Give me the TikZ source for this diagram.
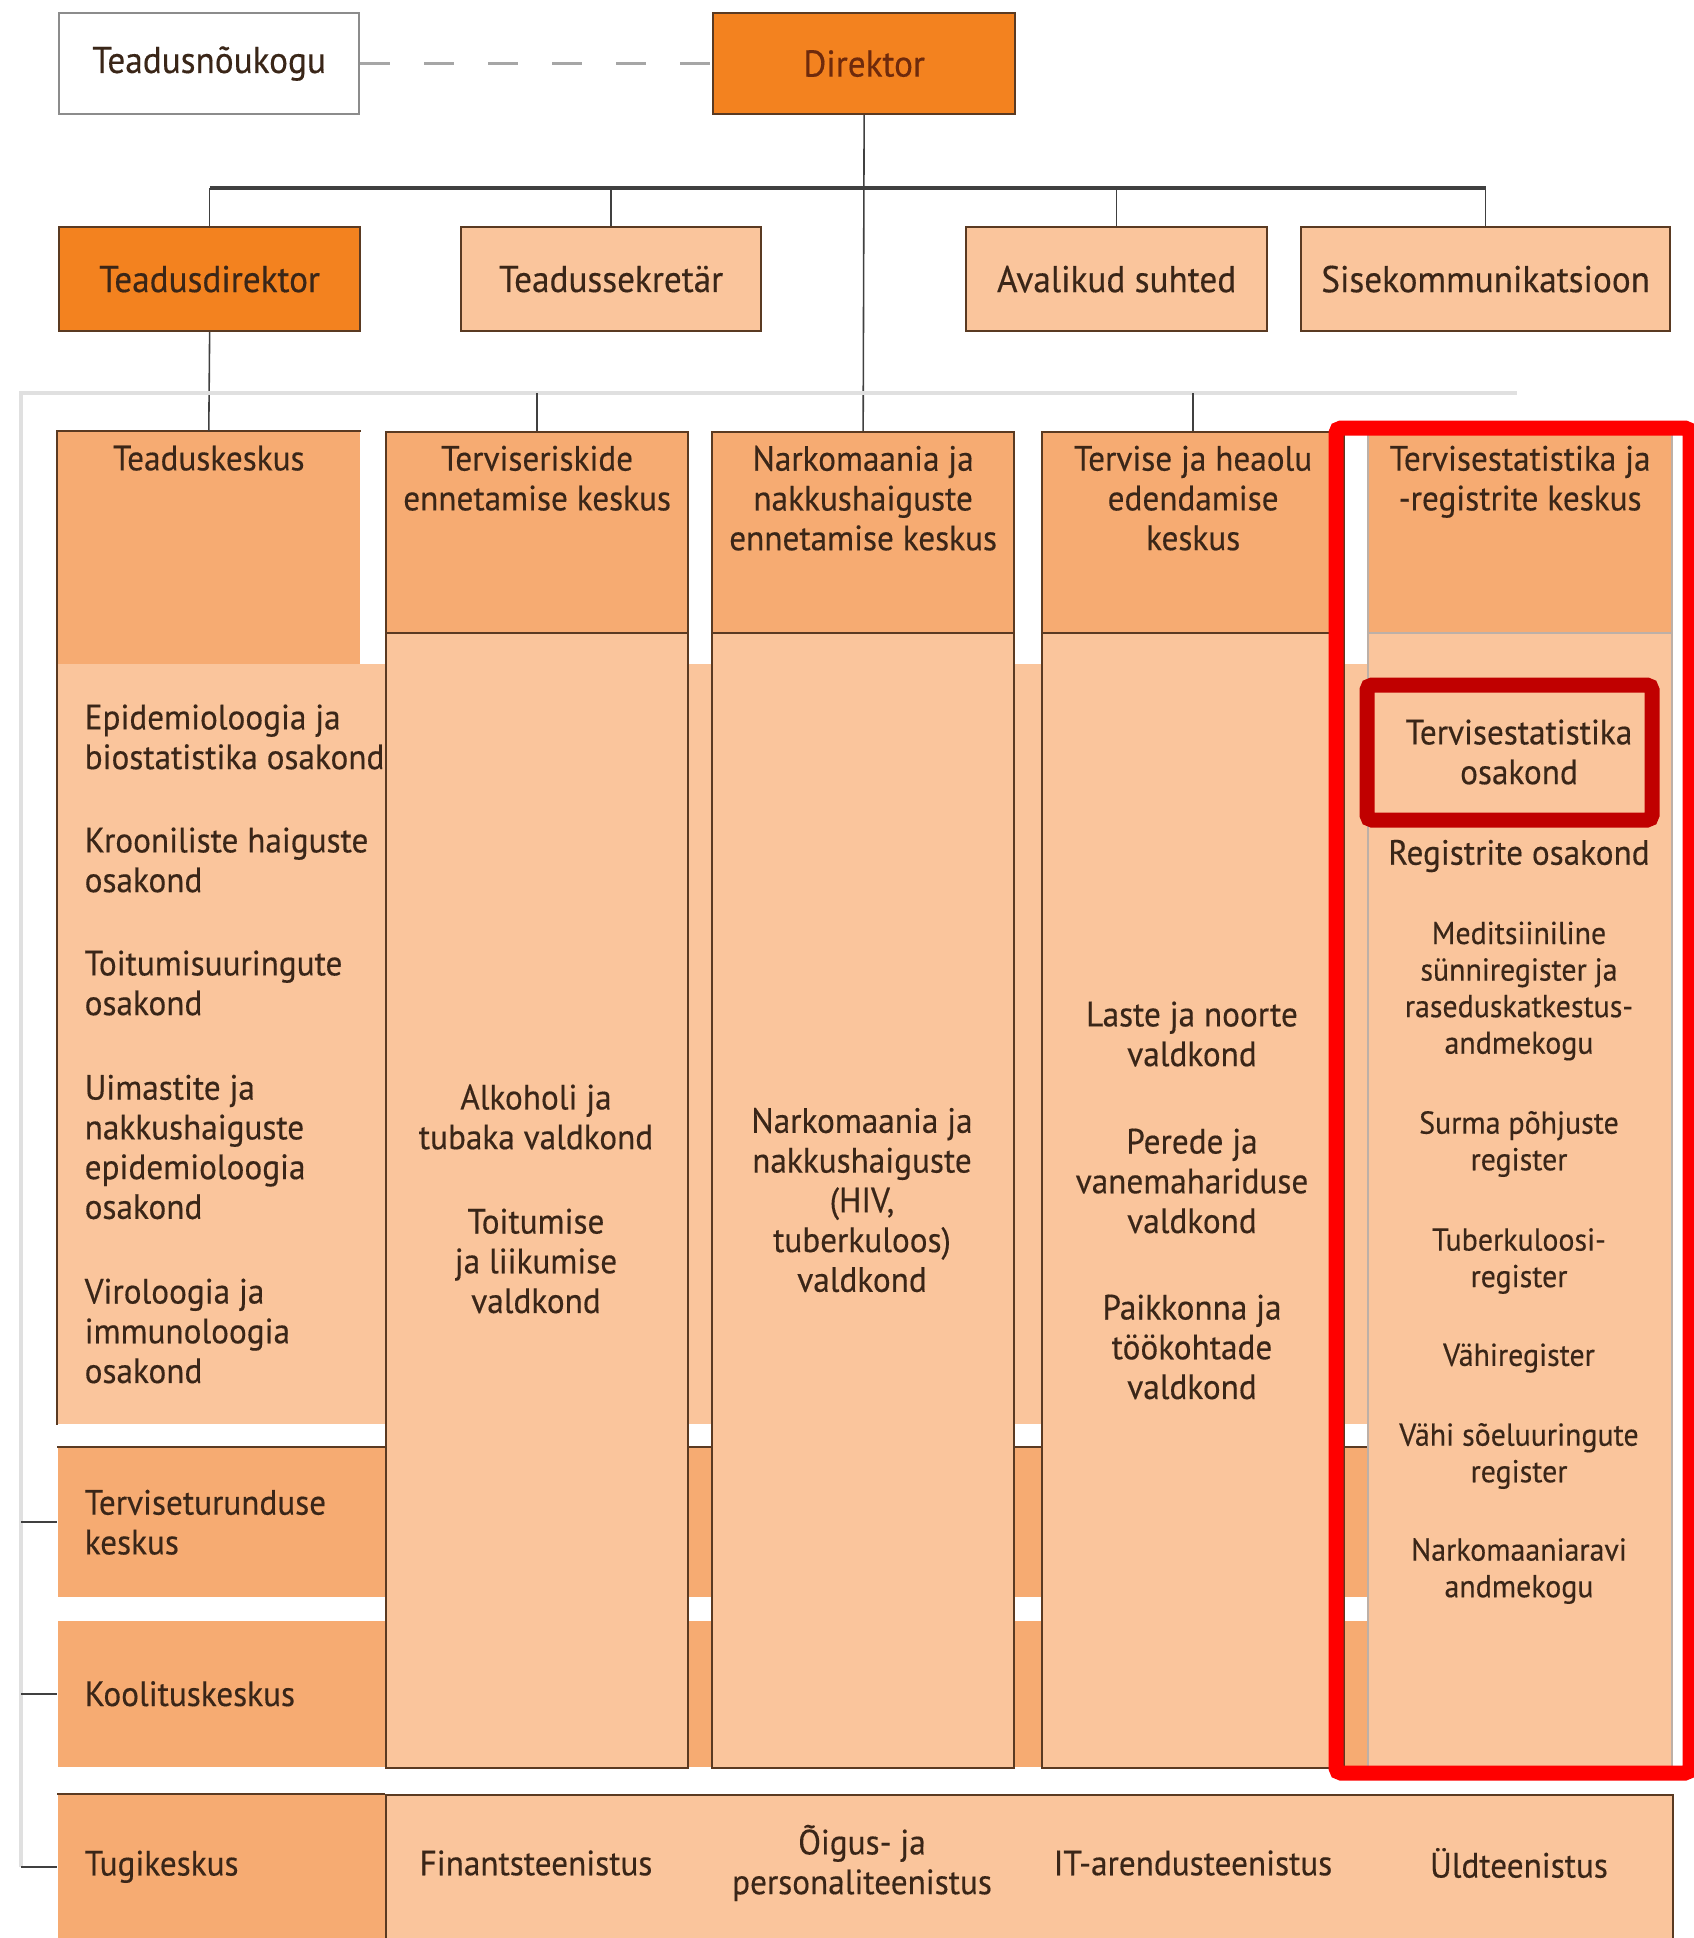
\documentclass[tikz,border=0pt]{standalone}
\usepackage{fontspec}
\setmainfont{PT Sans}[FakeStretch=0.945, FakeBold=0.35]
\usetikzlibrary{positioning}
\definecolor{dirorange}{HTML}{F3821F}
\definecolor{midorange}{HTML}{F6AB72}
\definecolor{lightorange}{HTML}{FAC59C}
\definecolor{ink}{HTML}{3A2618}
\definecolor{dirtext}{HTML}{6E2A0C}
\definecolor{edge}{HTML}{5A3A22}
\definecolor{hired}{HTML}{FF0000}
\definecolor{darkred}{HTML}{C00000}

\begin{document}
\begin{tikzpicture}[x=0.01cm, y=-0.01cm,
                every node/.style={font=\fontsize{10}{11.3}\selectfont, text=ink, inner sep=0pt},
                unit/.style={draw=edge, line width=0.6pt, anchor=north west, align=center},
                dark/.style={unit, fill=dirorange},
                pale/.style={unit, fill=lightorange},
                mid/.style={unit, fill=midorange},
                top/.style={font=\fontsize{10.6}{12}\selectfont},
                band/.style={anchor=north west, minimum width=13.10cm, text width=12.56cm,
                             align=left, inner xsep=0.27cm},
                dept/.style={anchor=west, align=left},
                item/.style={align=center},
                small/.style={align=center, font=\fontsize{9}{10.4}\selectfont},
                link/.style={draw=black!75, line width=0.45pt},
                frame/.style={draw=black!12, line width=0.9pt}]
\useasboundingbox (0,0) rectangle (1694,1938);
\clip (0,0) rectangle (1694,1938);

% top of the chart
\node[unit, top, draw=black!45, fill=white, minimum width=3.00cm, minimum height=1.01cm] (council) at (58,12) {Teadusnõukogu};
\node[dark, top, minimum width=3.02cm, minimum height=1.01cm, text=dirtext] (dir) at (712,12) {Direktor};
\node[dark, top, minimum width=3.01cm, minimum height=1.04cm] (sci) at (58,226) {Teadusdirektor};
\node[pale, top, minimum width=3.00cm, minimum height=1.04cm] (secr) at (460,226) {Teadussekretär};
\node[pale, top, minimum width=3.01cm, minimum height=1.04cm] (pr) at (965,226) {Avalikud suhted};
\node[pale, top, minimum width=3.69cm, minimum height=1.04cm] (intcom) at (1300,226) {Sisekommunikatsioon};

% horizontal bands behind the columns
\node[band, fill=lightorange, minimum height=7.60cm] (scidep) at (57,663) {};
\node[band, fill=midorange, minimum height=1.49cm] (market) at (57,1447) {Terviseturunduse\\keskus};
\node[band, fill=midorange, minimum height=1.46cm] (train) at (57,1620) {Koolituskeskus};
\draw[edge, line width=0.6pt] (market.north west) -- (market.north east);

% Teaduskeskus
\node[anchor=north west, fill=midorange, minimum width=3.02cm, minimum height=2.32cm] (scih) at (57,431) {};
\draw[edge, line width=0.6pt] (scidep.south west) -- (scih.north west) -- (scih.north east);
\node[below=0.14cm of scih.north] (scit) {Teaduskeskus};
\node[dept] (dep1) at (84,737) {Epidemioloogia ja\\biostatistika osakond};
\node[dept] (dep2) at (84,860) {Krooniliste haiguste\\osakond};
\node[dept] (dep3) at (84,983) {Toitumisuuringute\\osakond};
\node[dept] (dep4) at (84,1147) {Uimastite ja\\nakkushaiguste\\epidemioloogia\\osakond};
\node[dept] (dep5) at (84,1331) {Viroloogia ja\\immunoloogia\\osakond};

% the four other centres
\node[pale, minimum width=3.02cm, minimum height=13.35cm] (colrisk) at (385,431) {};
\node[mid, minimum width=3.02cm, minimum height=2.01cm] (headrisk) at (385,431) {};
\node[pale, minimum width=3.02cm, minimum height=13.35cm] (colnarc) at (711,431) {};
\node[mid, minimum width=3.02cm, minimum height=2.01cm] (headnarc) at (711,431) {};
\node[pale, minimum width=3.02cm, minimum height=13.35cm] (colwell) at (1041,431) {};
\node[mid, minimum width=3.02cm, minimum height=2.01cm] (headwell) at (1041,431) {};
\node[pale, draw=edge!40, minimum width=3.04cm, minimum height=13.35cm] (colstat) at (1367,431) {};
\node[mid, draw=edge!40, minimum width=3.04cm, minimum height=2.01cm] (headstat) at (1367,431) {};

\node[item, below=0.14cm of headrisk.north] (riskt) {Terviseriskide\\ennetamise keskus};
\node[item, below=0.14cm of headnarc.north] (narct) {Narkomaania ja\\nakkushaiguste\\ennetamise keskus};
\node[item, below=0.14cm of headwell.north] (wellt) {Tervise ja heaolu\\edendamise\\keskus};
\node[item, below=0.14cm of headstat.north] (statt) {Tervisestatistika ja\\-registrite keskus};

\node[item] (risk1) at (536,1117) {Alkoholi ja\\tubaka valdkond};
\node[item] (risk2) at (536,1261) {Toitumise\\ja liikumise\\valdkond};
\node[item] (narc1) at (862,1200) {Narkomaania ja\\nakkushaiguste\\(HIV,\\tuberkuloos)\\valdkond};
\node[item] (well1) at (1192,1034) {Laste ja noorte\\valdkond};
\node[item] (well2) at (1192,1181) {Perede ja\\vanemahariduse\\valdkond};
\node[item] (well3) at (1192,1347) {Paikkonna ja\\töökohtade\\valdkond};

\node[item] (stat1) at (1519,752) {Tervisestatistika\\osakond};
\node[item] (stat2) at (1519,856) {Registrite osakond};
\node[small] (stat3) at (1519,991) {Meditsiiniline\\sünniregister ja\\raseduskatkestus-\\andmekogu};
\node[small] (stat4) at (1519,1144) {Surma põhjuste\\register};
\node[small] (stat5) at (1519,1261) {Tuberkuloosi-\\register};
\node[small] (stat6) at (1519,1358) {Vähiregister};
\node[small] (stat7) at (1519,1456) {Vähi sõeluuringute\\register};
\node[small] (stat8) at (1519,1571) {Narkomaaniaravi\\andmekogu};

% support row
\node[band, fill=midorange, minimum width=3.28cm, text width=2.74cm, minimum height=1.44cm] (tug) at (57,1794) {Tugikeskus};
\node[pale, minimum width=12.86cm, minimum height=1.60cm] (serv) at (385,1794) {};
\draw[edge, line width=0.6pt] (tug.north west) -- (serv.north west);
\node[item] (fin) at (536,1863) {Finantsteenistus};
\node[item] (law) at (862,1863) {Õigus- ja\\personaliteenistus};
\node[item] (it) at (1193,1863) {IT-arendusteenistus};
\node[item] (gen) at (1519,1863) {Üldteenistus};

% connectors
\coordinate (bar) at (861,188);
\coordinate (ftop) at (21,393);
\coordinate (fend) at (1517,393);
\draw[draw=black!35, line width=0.9pt, dash pattern=on 0.3cm off 0.34cm] (council) -- (dir);
\draw[link] (dir.south) -- (colnarc.north);
\draw[link, line width=1.2pt] (sci.north |- bar) -- (intcom.north |- bar);
\draw[link] (sci.north |- bar) -- (sci.north);
\draw[link] (secr.north |- bar) -- (secr.north);
\draw[link] (pr.north |- bar) -- (pr.north);
\draw[link] (intcom.north |- bar) -- (intcom.north);
\draw[link] (sci.south) -- (scih.north);
\draw[frame] (fend) -- (ftop) -- (ftop |- tug.west);
\draw[link] (colrisk.north |- ftop) -- (colrisk.north);
\draw[link] (colwell.north |- ftop) -- (colwell.north);
\draw[link] (ftop |- market.west) -- (market.west);
\draw[link] (ftop |- train.west) -- (train.west);
\draw[link] (ftop |- tug.west) -- (tug.west);

% highlights
\draw[hired, line width=0.15cm, rounded corners=0.05cm] (1336,428) rectangle (1690,1773);
\draw[darkred, line width=0.15cm, rounded corners=0.05cm] (1367,685) rectangle (1652,820);
\end{tikzpicture}
\end{document}
